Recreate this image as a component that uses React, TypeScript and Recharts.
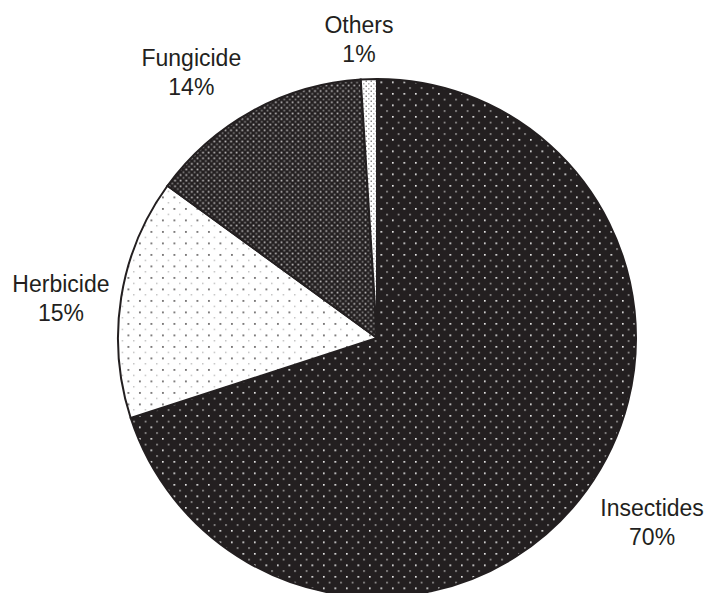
import { Cell, Pie, PieChart } from 'recharts';

const categories = ['Insectides', 'Herbicide', 'Fungicide', 'Others'];
const shares = [70, 15, 14, 1];
const fills = ['url(#dotsInsect)', 'url(#dotsHerb)', 'url(#dotsFung)', 'url(#dotsOther)'];

const data = categories.map((name, i) => ({ name, value: shares[i] }));

// small hand tweaks so each label sits where it reads best
const labelNudge: Record<string, [number, number]> = {
    Insectides: [17, -4],
    Herbicide: [-1, 10],
    Fungicide: [-32, 14],
    Others: [-8, 20],
};

const RADIAN = Math.PI / 180;
const INK = '#231f20';

function renderLabel(props: any) {
    const { cx, cy, midAngle, outerRadius, name, value } = props;
    const r = outerRadius + 60;
    const [dx, dy] = labelNudge[name] || [0, 0];
    const x = cx + r * Math.cos(-midAngle * RADIAN) + dx;
    const mid = cy + r * Math.sin(-midAngle * RADIAN) + dy;
    return (
        <text
            x={x}
            y={mid - 6}
            textAnchor="middle"
            fill={INK}
            fontFamily="'Liberation Sans', Arial, sans-serif"
            fontSize={23}
        >
            <tspan x={x}>{name}</tspan>
            <tspan x={x} dy={29}>{`${value}%`}</tspan>
        </text>
    );
}

export default function App() {
    return (
        <div style={{ position: 'absolute', left: 0, top: 0, background: '#fff' }}>
            <PieChart width={708} height={593} margin={{ top: 0, right: 0, bottom: 0, left: 0 }}>
                <defs>
                    <pattern id="dotsInsect" width="11.5" height="11.5" patternUnits="userSpaceOnUse">
                        <rect width="11.5" height="11.5" fill={INK} />
                        <rect x="1" y="1" width="1.6" height="1.6" fill="#ffffff" />
                        <rect x="6.75" y="6.75" width="1.6" height="1.6" fill="#a8a6a6" />
                    </pattern>
                    <pattern id="dotsHerb" width="11.5" height="11.5" patternUnits="userSpaceOnUse">
                        <rect width="11.5" height="11.5" fill="#ffffff" />
                        <rect x="1" y="1" width="1.8" height="1.8" fill="#6e6c6c" />
                        <rect x="6.75" y="6.75" width="1.2" height="1.2" fill="#a0a0a0" />
                    </pattern>
                    <pattern id="dotsFung" width="5.6" height="5.6" patternUnits="userSpaceOnUse">
                        <rect width="5.6" height="5.6" fill={INK} />
                        <rect x="0.6" y="0.6" width="1.7" height="1.7" fill="#c4c2c2" />
                        <rect x="3.4" y="3.4" width="1.7" height="1.7" fill="#858383" />
                    </pattern>
                    <pattern id="dotsOther" width="5" height="5" patternUnits="userSpaceOnUse">
                        <rect width="5" height="5" fill="#ffffff" />
                        <rect x="0.5" y="0.5" width="1.5" height="1.5" fill="#8a8888" />
                        <rect x="3" y="3" width="1.5" height="1.5" fill="#b0b0b0" />
                    </pattern>
                </defs>
                <Pie
                    data={data}
                    dataKey="value"
                    nameKey="name"
                    cx={377}
                    cy={338}
                    outerRadius={259}
                    startAngle={90}
                    endAngle={-270}
                    stroke={INK}
                    strokeWidth={2}
                    label={renderLabel}
                    labelLine={false}
                    isAnimationActive={false}
                >
                    {data.map((d, i) => (
                        <Cell key={d.name} fill={fills[i]} />
                    ))}
                </Pie>
            </PieChart>
        </div>
    );
}
